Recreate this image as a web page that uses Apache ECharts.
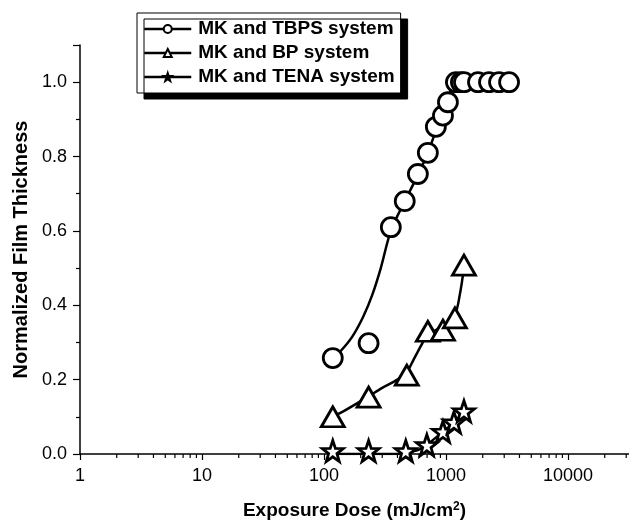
<!DOCTYPE html>
<html><head><meta charset="utf-8">
<script src="https://cdn.jsdelivr.net/npm/echarts@6/dist/echarts.min.js"></script>
<style>html,body{margin:0;padding:0;background:#fff}#c{width:629px;height:521px}</style>
</head><body><div id="c"></div>
<script>
const seriesNames = ['MK and TBPS system', 'MK and BP system', 'MK and TENA system'];
const majorTickLabels = [1, 10, 100, 1000, 10000];
const minorTickDose = [2,3,4,5,6,7,8,9,20,30,40,50,60,70,80,90,200,300,400,500,600,700,800,900,2000,3000,4000,5000,6000,7000,8000,9000,20000,30000];

// measured points
const tbpsDose  = [118, 232, 353, 459, 588, 710, 826, 944, 1037, 1206, 1325, 1403, 1829, 2252, 2721, 3288];
const tbpsThick = [0.258, 0.298, 0.61, 0.68, 0.753, 0.81, 0.88, 0.91, 0.946, 1.0, 1.0, 1.0, 1.0, 1.0, 1.0, 1.0];
const bpDose    = [118, 232, 477, 710, 944, 1183, 1403];
const bpThick   = [0.10, 0.153, 0.212, 0.33, 0.333, 0.366, 0.508];
const tenaDose  = [118, 232, 468, 697, 944, 1161, 1403];
const tenaThick = [0.008, 0.008, 0.008, 0.024, 0.06, 0.085, 0.115];

// fitted curves
const tbpsFitDose  = [118, 137, 170, 210, 250, 292, 353, 459, 588, 710, 826, 944, 1037, 1206, 1500, 3288];
const tbpsFitThick = [0.258, 0.277, 0.315, 0.37, 0.43, 0.5, 0.6, 0.68, 0.75, 0.81, 0.87, 0.92, 0.955, 1.0, 1.0, 1.0];
const bpFitDose    = [118, 150, 232, 300, 400, 477, 545, 646, 710, 944, 1183, 1300, 1403];
const bpFitThick   = [0.10, 0.118, 0.155, 0.178, 0.2, 0.22, 0.255, 0.3, 0.32, 0.345, 0.375, 0.43, 0.50];
const tenaFitDose  = [118, 232, 400, 500, 600, 697, 944, 1161, 1403];
const tenaFitThick = [0.0, 0.0, 0.0, 0.005, 0.012, 0.025, 0.06, 0.085, 0.115];

const zip = (a, b) => a.map((v, i) => [v, b[i]]);
const starPath = 'path://M0,-10 L2.35,-3.24 L9.51,-3.09 L3.8,1.24 L5.88,8.09 L0,4 L-5.88,8.09 L-3.8,1.24 L-9.51,-3.09 L-2.35,-3.24 Z';
const FONT = 'Liberation Sans, Arial, sans-serif';

const chart = echarts.init(document.getElementById('c'));

function markerSeries(name, data, symbol, size) {
  return {
    name, type: 'line', data, symbol, symbolSize: size, showSymbol: true,
    itemStyle: { color: '#fff', borderColor: '#000', borderWidth: 2.8 },
    lineStyle: { opacity: 0 }, z: 4, animation: false, silent: true
  };
}
function fitSeries(name, data) {
  return {
    name, type: 'line', data, symbol: 'none', smooth: 0.3,
    lineStyle: { color: '#000', width: 2.5 }, z: 3, animation: false, silent: true
  };
}

chart.setOption({
  animation: false,
  textStyle: { fontFamily: FONT, color: '#000' },
  grid: { left: 80, right: 0, top: 45, bottom: 67, containLabel: false, outerBoundsMode: 'none' },
  legend: {
    orient: 'vertical', left: 137, top: 13, padding: [6, 6, 6, 6],
    itemGap: 4, itemWidth: 47, itemHeight: 10,
    data: [
      { name: seriesNames[0] },
      { name: seriesNames[1] },
      { name: seriesNames[2], itemStyle: { color: '#000' } }
    ],
    textStyle: { fontSize: 19, fontWeight: 'bold', color: '#000', fontFamily: FONT, lineHeight: 20, padding: [0, 0, 0, 2] },
    backgroundColor: '#fff', borderColor: '#000', borderWidth: 1,
    shadowColor: '#000', shadowOffsetX: 7, shadowOffsetY: 6, shadowBlur: 0,
    lineStyle: { color: '#000', width: 2.5, opacity: 1 },
    itemStyle: { borderWidth: 2 },
    selectedMode: false
  },
  xAxis: {
    type: 'log', logBase: 10, min: 1, max: 31623,
    name: 'Exposure Dose (mJ/cm{sup|2})', nameLocation: 'middle', nameGap: 47,
    nameTextStyle: { fontSize: 19, fontWeight: 'bold', color: '#000', fontFamily: FONT,
      rich: { sup: { fontSize: 12, fontWeight: 'bold', verticalAlign: 'top', fontFamily: FONT, padding: [0, 0, 8, 0] } } },
    axisLine: { show: true, lineStyle: { color: '#000', width: 1.5 } },
    axisTick: { show: true, inside: false, length: 6, lineStyle: { color: '#000', width: 1.2 } },
    minorTick: { show: false },
    splitLine: { show: false },
    axisLabel: {
      fontSize: 18, color: '#000', margin: 13, fontFamily: FONT, showMaxLabel: false,
      formatter: v => {
        const m = majorTickLabels.find(t => Math.abs(t - v) / t < 1e-6);
        return m !== undefined ? String(m) : '';
      }
    }
  },
  yAxis: {
    type: 'value', min: 0, max: 1.1, interval: 0.2,
    name: 'Normalized Film Thickness', nameLocation: 'middle', nameGap: 49,
    nameTextStyle: { fontSize: 20, fontWeight: 'bold', color: '#000', fontFamily: FONT },
    axisLine: { show: true, lineStyle: { color: '#000', width: 1.5 } },
    axisTick: { show: true, inside: false, length: 7, lineStyle: { color: '#000', width: 1.2 } },
    minorTick: { show: true, splitNumber: 2, length: 4, lineStyle: { color: '#000', width: 1.2 } },
    splitLine: { show: false },
    axisLabel: { fontSize: 18, color: '#000', margin: 13, fontFamily: FONT, showMaxLabel: false,
      formatter: v => v.toFixed(1) }
  },
  series: [
    fitSeries('TBPS fit', zip(tbpsFitDose, tbpsFitThick)),
    fitSeries('BP fit', zip(bpFitDose, bpFitThick)),
    fitSeries('TENA fit', zip(tenaFitDose, tenaFitThick)),
    markerSeries(seriesNames[0], zip(tbpsDose, tbpsThick), 'circle', 19),
    markerSeries(seriesNames[1], zip(bpDose, bpThick), 'triangle', [23, 20]),
    markerSeries(seriesNames[2], zip(tenaDose, tenaThick), starPath, 21)
  ]
});

// log minor ticks on the x axis, positioned through the axis scale
const y0 = chart.convertToPixel({ yAxisIndex: 0 }, 0);
chart.setOption({
  graphic: minorTickDose.map(v => {
    const x = chart.convertToPixel({ xAxisIndex: 0 }, v);
    return { type: 'line', silent: true, z: 10,
      shape: { x1: x, y1: y0, x2: x, y2: y0 + 4 },
      style: { stroke: '#000', lineWidth: 1.2 } };
  })
});
</script></body></html>
